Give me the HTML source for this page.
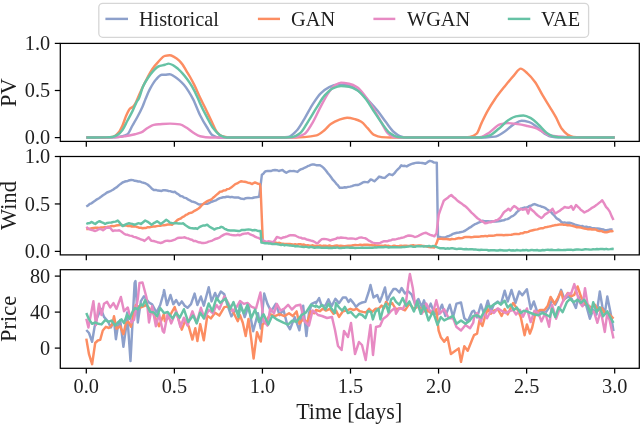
<!DOCTYPE html>
<html><head><meta charset="utf-8"><style>
html,body{margin:0;padding:0;background:#fff;width:640px;height:424px;overflow:hidden}
svg{display:block;will-change:transform}
text{font-family:"Liberation Serif",serif;fill:#1e1e1e}
</style></head><body>
<svg width="640" height="424" viewBox="0 0 640 424">
<clipPath id="c0"><rect x="60.3" y="43.4" width="579.0" height="98.0"/></clipPath>
<clipPath id="c1"><rect x="60.3" y="156.5" width="579.0" height="98.4"/></clipPath>
<clipPath id="c2"><rect x="60.3" y="269.7" width="579.0" height="98.60000000000002"/></clipPath>
<g clip-path="url(#c0)" fill="none" stroke-width="2.45" stroke-linejoin="round" stroke-linecap="butt">
<path stroke="#8da0cb" d="M86.30,137.50 C95.87,137.47 105.43,137.48 115.00,137.40 C117.50,137.38 120.00,136.86 122.50,136.30 C124.17,135.93 125.83,135.36 127.50,134.25 C129.17,133.14 130.83,128.42 132.50,125.50 C134.17,122.58 135.83,119.86 137.50,116.75 C139.17,113.64 140.83,110.53 142.50,106.75 C143.43,104.63 144.37,101.86 145.30,99.60 C146.87,95.81 148.43,91.83 150.00,88.90 C152.00,85.16 154.00,81.61 156.00,79.50 C157.97,77.42 159.93,74.80 161.90,74.80 C162.93,74.80 163.97,74.80 165.00,74.80 C166.57,74.80 168.13,74.20 169.70,74.20 C171.27,74.20 172.83,75.57 174.40,76.50 C176.00,77.45 177.60,78.73 179.20,80.10 C180.77,81.44 182.33,82.98 183.90,84.80 C185.47,86.62 187.03,88.87 188.60,91.30 C190.17,93.73 191.73,96.50 193.30,99.60 C195.57,104.09 197.83,110.68 200.10,115.20 C202.33,119.65 204.57,123.51 206.80,127.00 C208.77,130.07 210.73,134.17 212.70,135.30 C214.63,136.41 216.57,137.40 218.50,137.40 C239.67,137.40 260.83,137.40 282.00,137.40 C284.03,137.40 286.07,137.24 288.10,137.00 C290.83,136.68 293.57,133.69 296.30,131.00 C299.00,128.34 301.70,123.17 304.40,118.80 C307.10,114.43 309.80,108.75 312.50,104.60 C315.23,100.40 317.97,96.05 320.70,93.40 C323.40,90.78 326.10,88.55 328.80,87.30 C331.50,86.05 334.20,84.60 336.90,84.60 C339.60,84.60 342.30,84.60 345.00,84.60 C347.73,84.60 350.47,86.05 353.20,87.30 C355.90,88.54 358.60,91.08 361.30,93.40 C364.00,95.72 366.70,98.65 369.40,101.50 C372.13,104.39 374.87,107.33 377.60,110.70 C380.30,114.03 383.00,118.26 385.70,121.80 C388.40,125.34 391.10,129.67 393.80,132.00 C395.83,133.76 397.87,135.44 399.90,136.10 C401.93,136.76 403.97,137.40 406.00,137.40 C432.43,137.40 458.87,137.40 485.30,137.40 C488.50,137.40 491.70,137.06 494.90,136.60 C498.07,136.15 501.23,133.68 504.40,131.70 C507.60,129.70 510.80,125.87 514.00,124.10 C516.53,122.70 519.07,120.80 521.60,120.80 C524.17,120.80 526.73,121.42 529.30,122.10 C531.83,122.78 534.37,125.05 536.90,126.90 C539.47,128.78 542.03,132.11 544.60,133.60 C547.13,135.07 549.67,136.55 552.20,136.90 C554.13,137.17 556.07,137.39 558.00,137.40 C576.90,137.49 595.80,137.47 614.70,137.50"/>
<path stroke="#fc8d62" d="M86.30,137.50 C93.53,137.47 100.77,137.48 108.00,137.40 C109.92,137.38 111.83,137.07 113.75,136.60 C115.42,136.20 117.08,134.36 118.75,132.40 C120.00,130.93 121.25,128.22 122.50,125.50 C123.75,122.78 125.00,118.22 126.25,115.50 C127.50,112.78 128.75,109.71 130.00,108.60 C131.03,107.68 132.07,107.65 133.10,106.75 C134.15,105.84 135.20,103.89 136.25,101.75 C136.53,101.17 136.82,100.29 137.10,99.60 C138.67,95.80 140.23,92.24 141.80,88.90 C143.37,85.56 144.93,82.47 146.50,79.50 C148.47,75.77 150.43,71.73 152.40,68.90 C154.37,66.07 156.33,63.81 158.30,61.80 C160.53,59.52 162.77,56.38 165.00,55.90 C166.57,55.57 168.13,55.30 169.70,55.30 C171.27,55.30 172.83,56.31 174.40,57.10 C176.00,57.90 177.60,59.14 179.20,60.60 C180.37,61.67 181.53,63.13 182.70,64.75 C183.87,66.37 185.03,68.67 186.20,70.60 C187.40,72.59 188.60,74.40 189.80,76.50 C191.37,79.24 192.93,82.22 194.50,85.40 C196.47,89.39 198.43,94.31 200.40,98.40 C201.97,101.66 203.53,104.50 205.10,107.70 C207.33,112.26 209.57,117.33 211.80,121.90 C213.50,125.38 215.20,130.00 216.90,132.00 C218.57,133.96 220.23,135.69 221.90,136.20 C224.13,136.88 226.37,137.40 228.60,137.40 C251.07,137.40 273.53,137.40 296.00,137.40 C298.80,137.40 301.60,137.25 304.40,137.10 C308.47,136.88 312.53,136.38 316.60,135.40 C319.30,134.75 322.00,132.18 324.70,130.00 C326.73,128.36 328.77,125.29 330.80,123.90 C333.50,122.06 336.20,120.69 338.90,119.80 C341.63,118.90 344.37,117.80 347.10,117.80 C349.80,117.80 352.50,118.52 355.20,119.20 C357.23,119.71 359.27,120.58 361.30,121.80 C363.33,123.02 365.37,125.77 367.40,127.90 C369.43,130.03 371.47,133.59 373.50,134.60 C376.20,135.94 378.90,136.93 381.60,137.10 C384.40,137.28 387.20,137.40 390.00,137.40 C415.33,137.40 440.67,137.40 466.00,137.40 C467.33,137.40 468.67,137.15 470.00,136.90 C472.23,136.48 474.47,135.46 476.70,133.60 C478.30,132.27 479.90,126.46 481.50,123.10 C483.40,119.11 485.30,115.02 487.20,111.60 C489.77,106.98 492.33,102.91 494.90,99.20 C498.07,94.62 501.23,90.76 504.40,86.80 C507.60,82.80 510.80,78.77 514.00,75.30 C516.23,72.88 518.47,68.60 520.70,68.60 C522.93,68.60 525.17,71.45 527.40,73.40 C529.93,75.61 532.47,78.53 535.00,82.00 C537.57,85.52 540.13,91.08 542.70,95.40 C545.23,99.67 547.77,103.60 550.30,107.80 C552.20,110.95 554.10,113.95 556.00,117.40 C557.93,120.91 559.87,126.21 561.80,128.80 C563.70,131.35 565.60,133.50 567.50,134.60 C569.40,135.70 571.30,136.66 573.20,136.90 C575.47,137.19 577.73,137.38 580.00,137.40 C591.57,137.48 603.13,137.47 614.70,137.50"/>
<path stroke="#e78ac3" d="M86.30,137.50 C95.03,137.47 103.77,137.47 112.50,137.40 C116.67,137.37 120.83,136.82 125.00,136.30 C128.33,135.88 131.67,135.07 135.00,134.25 C137.08,133.74 139.17,133.27 141.25,132.40 C143.33,131.53 145.42,129.21 147.50,128.00 C149.58,126.79 151.67,125.26 153.75,124.90 C155.83,124.54 157.92,124.42 160.00,124.25 C163.33,123.98 166.67,123.60 170.00,123.60 C173.33,123.60 176.67,123.92 180.00,124.40 C182.23,124.72 184.47,126.45 186.70,127.80 C188.93,129.15 191.17,131.45 193.40,132.80 C195.63,134.15 197.87,135.75 200.10,136.20 C203.47,136.88 206.83,137.40 210.20,137.40 C236.80,137.40 263.40,137.40 290.00,137.40 C292.10,137.40 294.20,137.22 296.30,137.00 C299.00,136.72 301.70,135.58 304.40,134.00 C307.10,132.42 309.80,127.19 312.50,122.80 C315.23,118.35 317.97,111.68 320.70,106.60 C323.40,101.58 326.10,96.17 328.80,92.40 C330.83,89.56 332.87,86.47 334.90,85.20 C336.93,83.93 338.97,82.60 341.00,82.60 C343.70,82.60 346.40,83.20 349.10,83.80 C351.80,84.40 354.50,85.62 357.20,87.30 C359.93,89.00 362.67,92.91 365.40,96.40 C368.10,99.85 370.80,104.23 373.50,108.60 C376.20,112.97 378.90,118.18 381.60,122.80 C383.63,126.28 385.67,131.08 387.70,133.00 C389.73,134.92 391.77,136.76 393.80,137.00 C395.87,137.24 397.93,137.40 400.00,137.40 C426.00,137.40 452.00,137.40 478.00,137.40 C479.17,137.40 480.33,137.15 481.50,136.90 C484.03,136.36 486.57,134.29 489.10,132.70 C492.93,130.29 496.77,124.92 500.60,124.10 C503.13,123.56 505.67,123.10 508.20,123.10 C511.40,123.10 514.60,123.66 517.80,124.10 C521.00,124.54 524.20,125.29 527.40,126.00 C529.93,126.56 532.47,127.06 535.00,127.90 C537.57,128.75 540.13,130.43 542.70,131.70 C545.23,132.96 547.77,134.98 550.30,135.50 C552.87,136.03 555.43,136.28 558.00,136.50 C563.07,136.93 568.13,137.37 573.20,137.40 C587.03,137.47 600.87,137.47 614.70,137.50"/>
<path stroke="#66c2a5" d="M86.30,137.50 C92.87,137.47 99.43,137.47 106.00,137.40 C108.17,137.38 110.33,137.24 112.50,137.00 C114.17,136.82 115.83,135.89 117.50,134.90 C119.17,133.91 120.83,132.08 122.50,129.90 C124.17,127.72 125.83,123.63 127.50,120.50 C129.17,117.37 130.83,114.42 132.50,111.10 C134.17,107.78 135.83,102.78 137.50,100.50 C137.77,100.14 138.03,99.99 138.30,99.60 C139.87,97.32 141.43,89.98 143.00,86.60 C144.57,83.22 146.13,80.66 147.70,78.30 C149.67,75.33 151.63,72.64 153.60,70.60 C155.17,68.97 156.73,67.15 158.30,66.50 C160.53,65.57 162.77,65.41 165.00,64.75 C166.17,64.41 167.33,63.60 168.50,63.60 C170.10,63.60 171.70,64.52 173.30,65.30 C174.87,66.06 176.43,67.54 178.00,68.90 C179.57,70.26 181.13,71.86 182.70,73.60 C184.27,75.34 185.83,77.35 187.40,79.50 C188.97,81.65 190.53,83.92 192.10,86.60 C194.07,89.97 196.03,94.02 198.00,98.40 C198.70,99.96 199.40,101.94 200.10,103.50 C202.33,108.48 204.57,112.74 206.80,116.90 C209.03,121.06 211.27,125.76 213.50,128.60 C215.73,131.44 217.97,134.23 220.20,135.30 C222.43,136.37 224.67,137.40 226.90,137.40 C246.60,137.40 266.30,137.40 286.00,137.40 C288.07,137.40 290.13,137.23 292.20,137.00 C294.90,136.70 297.60,135.00 300.30,133.00 C303.03,130.98 305.77,125.05 308.50,120.80 C311.20,116.60 313.90,111.83 316.60,107.60 C319.30,103.37 322.00,98.39 324.70,95.40 C327.40,92.41 330.10,89.49 332.80,88.30 C335.53,87.10 338.27,85.90 341.00,85.90 C343.70,85.90 346.40,86.26 349.10,86.70 C351.80,87.14 354.50,88.64 357.20,90.30 C359.93,91.98 362.67,95.21 365.40,98.50 C368.10,101.75 370.80,106.65 373.50,110.70 C376.20,114.75 378.90,119.13 381.60,122.80 C384.33,126.51 387.07,131.07 389.80,133.00 C392.50,134.91 395.20,136.70 397.90,137.00 C399.93,137.23 401.97,137.40 404.00,137.40 C429.83,137.40 455.67,137.40 481.50,137.40 C484.03,137.40 486.57,136.55 489.10,135.70 C492.30,134.63 495.50,131.36 498.70,128.80 C501.87,126.26 505.03,122.20 508.20,120.20 C510.77,118.58 513.33,116.93 515.90,116.40 C518.43,115.87 520.97,115.40 523.50,115.40 C526.07,115.40 528.63,116.94 531.20,118.30 C533.73,119.64 536.27,122.63 538.80,125.00 C541.37,127.40 543.93,130.99 546.50,132.70 C549.03,134.39 551.57,136.02 554.10,136.50 C556.67,136.99 559.23,137.39 561.80,137.40 C579.43,137.49 597.07,137.47 614.70,137.50"/>
</g>
<g clip-path="url(#c1)" fill="none" stroke-width="2.45" stroke-linejoin="round" stroke-linecap="butt">
<polyline stroke="#8da0cb" points="86.25,206.50 88.00,205.48 89.75,203.88 91.50,203.31 93.25,201.93 95.00,200.75 97.00,199.29 99.00,198.25 101.00,196.85 103.00,195.35 105.00,194.00 107.00,192.51 109.00,191.76 111.00,190.78 113.00,189.73 115.00,188.25 116.88,187.14 118.75,185.38 120.62,183.91 122.50,182.50 124.25,181.77 126.00,181.27 127.75,180.93 129.50,180.27 131.25,180.00 133.00,180.13 134.75,180.80 136.50,180.96 138.25,181.46 140.00,181.50 141.88,182.39 143.75,182.78 145.62,183.46 147.50,184.50 149.58,186.23 151.67,188.43 153.75,190.00 155.83,189.93 157.92,190.57 160.00,190.75 161.67,190.93 163.33,190.17 165.00,190.25 166.75,190.44 168.50,190.98 170.25,191.14 172.00,191.80 173.40,192.16 174.80,191.80 176.67,193.41 178.53,194.33 180.40,196.00 182.30,196.35 184.20,197.64 186.10,198.10 187.97,199.44 189.83,200.30 191.70,201.60 193.38,201.80 195.06,202.41 196.74,203.23 198.42,204.28 200.10,204.50 201.88,204.35 203.65,203.89 205.42,203.76 207.20,203.80 208.95,203.17 210.70,202.20 212.45,201.51 214.20,200.90 216.07,200.35 217.93,199.10 219.80,198.10 221.50,197.72 223.20,197.23 224.90,197.23 226.60,196.75 228.30,196.70 229.98,197.17 231.66,196.88 233.34,197.27 235.02,197.48 236.70,197.40 238.57,197.56 240.43,198.43 242.30,198.80 244.00,199.05 245.70,198.18 247.40,198.08 249.10,198.08 250.80,198.10 252.48,198.02 254.16,197.49 255.84,197.33 257.52,196.97 259.20,196.70 261.90,174.70 263.30,173.68 264.70,171.90 266.10,171.12 267.50,171.00 269.40,171.08 271.30,171.00 273.15,170.16 275.00,170.00 276.90,170.17 278.80,171.00 280.65,170.35 282.50,170.00 284.40,171.64 286.30,172.80 288.15,171.68 290.00,171.00 291.90,171.10 293.80,171.00 295.65,171.35 297.50,171.90 299.40,170.10 301.30,169.10 302.87,168.72 304.43,167.80 306.00,167.20 307.62,166.18 309.25,165.59 310.88,164.90 312.50,164.40 314.38,164.55 316.25,165.20 318.12,165.13 320.00,165.30 321.90,166.43 323.80,168.10 325.68,170.24 327.55,172.84 329.43,174.95 331.30,177.50 332.98,179.93 334.66,181.63 336.34,183.83 338.02,185.47 339.70,187.80 341.40,187.79 343.10,187.66 344.80,187.20 346.50,187.43 348.20,186.90 350.08,186.59 351.96,186.16 353.84,185.39 355.72,185.04 357.60,185.00 359.47,184.33 361.33,183.39 363.20,182.20 364.77,182.00 366.33,182.11 367.90,182.20 369.30,181.07 370.70,179.40 372.55,180.22 374.40,181.30 375.97,179.81 377.53,178.37 379.10,176.60 380.55,177.01 382.00,177.50 383.40,177.72 384.80,177.90 387.00,175.87 389.20,174.10 390.85,174.61 392.50,175.20 394.33,173.47 396.17,171.00 398.00,169.10 399.65,167.59 401.30,165.30 403.10,166.04 404.90,165.81 406.70,166.40 408.90,165.10 411.10,164.20 413.30,163.44 415.50,162.90 417.15,162.72 418.80,162.60 420.43,162.87 422.05,162.96 423.68,163.24 425.30,163.70 427.50,162.13 429.70,160.90 431.90,161.37 434.10,162.60 436.80,162.60 438.00,237.00 439.75,236.89 441.50,237.41 443.25,237.36 445.00,237.50 447.00,236.48 449.00,235.96 451.00,235.11 453.00,233.83 455.00,233.25 457.00,232.76 459.00,232.44 461.00,232.05 463.00,231.58 465.00,230.75 466.88,229.47 468.75,228.17 470.62,227.21 472.50,225.75 474.50,224.40 476.50,223.62 478.50,222.73 480.50,221.95 482.50,220.75 484.38,221.15 486.25,221.31 488.12,221.29 490.00,221.50 492.00,221.17 494.00,221.56 496.00,221.55 498.00,221.24 500.00,221.00 501.88,220.45 503.75,220.38 505.62,219.41 507.50,219.10 509.38,218.17 511.25,216.56 513.12,215.89 515.00,214.40 516.87,212.13 518.73,210.49 520.60,208.75 522.48,208.21 524.35,207.56 526.23,207.67 528.10,206.90 529.75,205.84 531.40,205.58 533.05,204.50 534.70,204.10 536.57,204.83 538.43,205.63 540.30,206.00 541.87,206.80 543.43,207.18 545.00,207.80 546.90,209.30 548.80,210.45 550.70,211.60 552.57,213.85 554.43,215.76 556.30,218.10 557.95,219.11 559.60,220.14 561.25,221.92 562.90,222.80 564.52,222.43 566.15,222.88 567.77,222.73 569.40,222.80 571.28,223.21 573.16,223.83 575.04,224.61 576.92,225.11 578.80,225.60 580.68,226.12 582.56,226.08 584.44,226.98 586.32,226.72 588.20,227.50 590.08,227.34 591.96,228.13 593.84,228.15 595.72,228.46 597.60,228.50 599.48,228.72 601.35,229.09 603.23,229.46 605.10,230.30 606.98,230.10 608.85,229.80 610.73,229.44 612.60,229.40"/>
<polyline stroke="#fc8d62" points="86.25,229.00 88.12,228.99 90.00,228.60 91.88,228.28 93.75,227.94 95.62,227.71 97.50,227.75 99.29,227.86 101.07,227.40 102.86,227.42 104.64,227.12 106.43,227.17 108.21,226.81 110.00,226.50 112.00,225.89 114.00,226.21 116.00,225.54 118.00,225.18 120.00,225.00 122.00,225.01 124.00,225.66 126.00,225.35 128.00,225.98 130.00,225.75 131.79,226.50 133.57,226.27 135.36,226.44 137.14,226.95 138.93,227.68 140.71,227.62 142.50,228.25 144.29,227.93 146.07,227.97 147.86,227.11 149.64,227.19 151.43,226.83 153.21,226.47 155.00,226.50 156.79,226.14 158.57,225.86 160.36,225.67 162.14,225.40 163.93,225.20 165.71,225.08 167.50,224.50 169.75,224.40 172.00,224.70 173.75,223.25 175.50,221.86 177.25,220.17 179.00,219.10 180.70,218.52 182.40,217.07 184.10,216.34 185.80,214.95 187.50,214.30 189.25,213.13 191.00,212.79 192.75,212.06 194.50,210.80 196.37,209.88 198.23,208.79 200.10,207.30 202.20,204.83 204.30,203.10 206.08,201.91 207.85,200.90 209.62,200.16 211.40,199.50 213.08,197.73 214.76,196.42 216.44,194.91 218.12,193.56 219.80,191.80 221.67,191.59 223.53,190.52 225.40,190.40 227.30,189.11 229.20,188.85 231.10,187.60 233.20,185.86 235.30,184.10 237.17,183.44 239.03,182.27 240.90,181.30 242.65,181.54 244.40,181.72 246.15,182.06 247.90,182.70 250.05,183.03 252.20,184.10 253.60,183.08 255.00,182.40 256.63,183.11 258.27,183.82 259.90,184.10 260.60,188.30 262.80,241.90 264.68,241.93 266.57,242.35 268.45,241.90 270.33,242.69 272.22,242.12 274.10,242.60 275.85,242.58 277.60,243.17 279.35,242.79 281.10,243.42 282.85,243.61 284.60,244.01 286.35,244.06 288.10,244.00 289.86,244.06 291.62,244.16 293.39,244.65 295.15,244.16 296.91,244.57 298.68,244.14 300.44,244.28 302.20,244.70 303.96,244.54 305.73,245.35 307.49,245.26 309.25,245.53 311.01,245.62 312.77,245.33 314.54,246.00 316.30,245.80 318.17,245.94 320.04,245.44 321.92,246.18 323.79,245.60 325.66,245.75 327.53,246.12 329.41,245.52 331.28,246.11 333.15,246.11 335.02,245.82 336.89,245.49 338.77,245.90 340.64,245.78 342.51,245.96 344.38,246.11 346.26,245.90 348.13,245.65 350.00,245.80 351.76,245.55 353.52,245.18 355.29,245.00 357.05,245.11 358.81,244.91 360.58,244.62 362.34,245.22 364.10,244.70 365.85,244.79 367.60,244.63 369.35,244.98 371.10,244.98 372.85,245.41 374.60,245.08 376.35,245.48 378.10,245.40 379.86,245.71 381.62,245.61 383.39,245.97 385.15,245.45 386.91,246.03 388.68,245.83 390.44,246.38 392.20,246.10 393.96,245.73 395.73,246.06 397.49,246.16 399.25,246.01 401.01,245.57 402.77,246.06 404.54,245.62 406.30,245.80 408.05,245.94 409.80,245.78 411.55,245.44 413.30,245.22 415.05,245.80 416.80,245.80 418.55,245.57 420.30,245.40 422.06,245.72 423.82,245.92 425.59,246.40 427.35,246.48 429.11,247.10 430.88,247.37 432.64,247.22 434.40,247.50 436.50,243.30 438.00,239.00 439.71,238.89 441.43,238.81 443.14,239.05 444.86,239.07 446.57,239.09 448.29,239.24 450.00,239.50 451.75,238.97 453.50,239.15 455.25,238.99 457.00,238.44 458.75,237.99 460.50,238.30 462.25,238.15 464.00,237.31 465.75,236.87 467.50,237.00 469.29,236.94 471.07,237.22 472.86,237.06 474.64,236.79 476.43,236.60 478.21,236.74 480.00,236.50 481.79,236.19 483.57,236.21 485.36,235.87 487.14,236.30 488.93,235.61 490.71,235.78 492.50,235.75 494.38,235.55 496.25,235.07 498.12,234.96 500.00,235.00 501.88,235.00 503.76,235.17 505.64,235.04 507.52,234.95 509.40,234.86 511.28,234.79 513.16,234.33 515.04,234.08 516.92,233.98 518.80,234.10 520.67,233.28 522.54,233.36 524.41,232.32 526.28,232.31 528.15,231.87 530.02,230.92 531.89,230.49 533.76,230.04 535.63,229.62 537.50,229.40 539.38,228.63 541.27,228.22 543.15,228.27 545.03,227.23 546.92,226.97 548.80,226.60 550.68,226.33 552.56,225.71 554.44,225.33 556.32,225.08 558.20,224.70 560.08,224.39 561.95,224.41 563.83,224.89 565.70,224.70 567.56,225.24 569.42,225.19 571.28,225.64 573.14,226.04 575.00,226.60 576.88,227.23 578.76,227.17 580.64,227.42 582.52,228.14 584.40,228.50 586.28,228.84 588.16,229.23 590.04,228.96 591.92,229.47 593.80,229.40 595.68,229.53 597.57,230.58 599.45,231.12 601.33,230.87 603.22,231.84 605.10,232.20 606.78,232.21 608.46,231.77 610.14,231.04 611.82,231.33 613.50,230.90"/>
<polyline stroke="#e78ac3" points="86.30,226.80 88.30,228.59 90.30,229.60 91.95,229.94 93.60,230.46 95.25,231.00 97.38,230.03 99.50,228.90 101.25,229.21 103.00,230.30 104.75,229.03 106.50,227.50 108.25,227.71 110.00,227.50 111.40,229.37 112.80,231.00 114.93,230.40 117.07,230.63 119.20,230.30 121.30,231.47 123.40,233.17 125.50,234.50 127.60,234.83 129.70,235.60 131.80,235.90 133.67,236.82 135.53,237.24 137.40,238.00 139.18,238.66 140.95,239.51 142.72,239.86 144.50,240.90 146.60,239.12 148.70,237.30 150.10,239.37 151.50,240.90 153.60,241.06 155.70,241.60 157.35,242.21 159.00,242.57 160.65,243.00 162.30,242.54 163.95,241.72 165.60,240.90 167.47,240.78 169.33,241.03 171.20,240.90 173.33,240.08 175.47,239.30 177.60,238.00 179.38,237.68 181.15,237.72 182.92,237.62 184.70,237.30 186.57,238.12 188.43,238.46 190.30,239.50 191.98,239.71 193.66,240.91 195.34,240.92 197.02,241.62 198.70,242.30 200.33,242.46 201.97,243.08 203.60,243.00 205.27,242.88 206.93,242.31 208.60,241.60 210.47,241.17 212.33,240.55 214.20,239.50 216.07,238.70 217.93,238.25 219.80,237.30 221.90,235.85 224.00,234.58 226.10,233.80 228.05,234.00 230.00,234.64 231.95,235.04 233.90,235.20 235.77,235.38 237.63,234.82 239.50,235.20 241.18,234.72 242.86,233.97 244.54,233.61 246.22,233.58 247.90,233.10 249.68,234.03 251.45,234.90 253.22,235.46 255.00,236.60 256.63,237.36 258.27,237.82 259.90,238.80 261.70,239.42 263.50,240.50 265.25,241.34 267.00,241.60 269.13,241.34 271.27,241.68 273.40,241.90 275.15,239.74 276.90,237.00 279.00,237.70 281.10,238.40 283.20,237.49 285.30,237.00 287.17,236.33 289.03,235.54 290.90,235.10 293.05,235.25 295.20,235.50 297.07,236.51 298.93,237.36 300.80,237.70 302.55,238.58 304.30,238.44 306.05,239.22 307.80,239.80 309.67,240.19 311.53,240.81 313.40,241.20 315.55,242.59 317.70,243.30 319.80,240.88 321.90,239.10 324.00,238.86 326.10,239.10 328.20,239.62 330.30,240.50 332.40,239.71 334.50,239.10 335.95,238.79 337.40,237.70 339.15,237.97 340.90,237.47 342.65,237.68 344.40,237.90 346.27,238.08 348.13,238.61 350.00,238.40 351.87,238.52 353.73,238.62 355.60,239.10 357.50,238.50 359.40,237.65 361.30,237.40 363.17,237.86 365.03,238.16 366.90,239.10 368.77,240.60 370.63,241.42 372.50,242.60 374.37,242.91 376.23,243.12 378.10,243.30 380.20,242.83 382.30,241.90 384.07,241.19 385.85,241.16 387.62,241.20 389.40,240.50 391.15,240.22 392.90,239.46 394.65,239.43 396.40,239.10 398.27,238.56 400.13,238.18 402.00,237.70 403.77,237.41 405.55,236.49 407.33,235.82 409.10,235.50 410.97,235.71 412.83,236.17 414.70,237.00 416.57,236.57 418.43,235.83 420.30,234.80 422.20,233.92 424.10,233.17 426.00,232.70 428.10,233.89 430.20,234.80 432.30,235.48 434.40,236.30 436.50,233.40 438.75,214.50 440.42,209.86 442.08,205.41 443.75,200.75 445.62,199.30 447.50,198.04 449.38,196.24 451.25,195.00 453.33,196.99 455.42,198.55 457.50,200.75 459.50,202.13 461.50,203.44 463.50,205.16 465.50,206.39 467.50,208.25 469.50,210.42 471.50,212.63 473.50,214.34 475.50,216.32 477.50,218.25 479.38,219.50 481.25,220.91 483.12,221.85 485.00,223.25 486.88,222.96 488.75,222.40 490.62,222.24 492.50,221.50 494.17,221.26 495.83,220.21 497.50,220.00 500.00,218.10 501.88,215.46 503.75,212.50 505.30,211.15 506.85,210.21 508.40,208.75 510.30,210.60 512.20,207.94 514.10,206.00 515.95,207.13 517.80,208.75 519.37,209.35 520.93,209.06 522.50,209.70 524.40,209.22 526.30,208.75 528.10,213.50 530.00,207.80 531.87,209.95 533.73,211.45 535.60,213.50 537.50,215.25 539.40,216.64 541.30,218.10 543.15,216.57 545.00,214.40 546.90,213.34 548.80,211.94 550.70,210.60 552.50,208.75 553.90,211.47 555.30,213.50 556.87,212.57 558.43,211.50 560.00,210.60 561.57,209.26 563.13,208.21 564.70,206.90 566.60,207.57 568.50,207.80 569.90,207.21 571.30,206.00 573.20,209.70 574.60,207.61 576.00,205.00 577.57,206.46 579.13,207.81 580.70,209.70 582.55,210.99 584.40,212.50 586.30,211.48 588.20,210.60 590.07,209.35 591.93,207.77 593.80,206.90 595.70,205.55 597.60,204.10 599.15,202.82 600.70,201.59 602.25,200.30 604.12,203.45 606.00,206.90 607.88,208.91 609.75,211.60 611.62,216.13 613.50,220.00"/>
<polyline stroke="#66c2a5" points="86.30,224.00 88.10,223.22 89.90,222.99 91.70,221.90 93.47,223.11 95.25,224.00 97.38,222.25 99.50,221.20 101.37,222.18 103.23,222.79 105.10,224.00 107.20,222.94 109.30,222.60 111.40,222.51 113.50,221.90 115.62,221.59 117.75,220.50 119.40,222.38 121.05,224.35 122.70,226.10 124.80,224.88 126.90,223.91 129.00,223.30 130.63,223.60 132.27,223.89 133.90,224.70 136.00,224.22 138.10,223.30 139.55,223.38 141.00,224.00 143.10,222.22 145.20,220.50 147.30,221.54 149.40,223.06 151.50,224.70 153.37,223.41 155.23,222.37 157.10,221.20 158.88,222.44 160.65,224.00 162.53,222.64 164.42,221.28 166.30,219.80 168.05,220.93 169.80,222.60 171.90,223.00 174.00,223.30 175.85,222.98 177.70,223.42 179.55,223.55 181.40,223.65 183.25,223.30 185.13,225.00 187.02,226.17 188.90,227.50 190.58,228.14 192.26,228.22 193.94,228.47 195.62,228.26 197.30,228.90 199.40,227.13 201.50,226.10 203.40,225.44 205.30,225.48 207.20,224.70 208.95,226.25 210.70,227.41 212.45,228.36 214.20,229.60 215.95,228.66 217.70,228.10 219.45,227.85 221.20,226.80 222.97,227.47 224.75,228.85 226.53,229.51 228.30,230.30 230.26,230.47 232.22,230.39 234.18,230.54 236.14,230.66 238.10,231.00 239.78,230.97 241.46,230.07 243.14,230.06 244.82,230.00 246.50,229.60 248.48,229.56 250.46,229.62 252.44,230.42 254.42,230.01 256.40,230.30 258.50,231.04 260.60,231.00 261.40,242.60 263.21,242.85 265.03,243.17 266.84,243.11 268.66,243.44 270.47,243.54 272.29,244.05 274.10,244.00 275.85,243.86 277.60,244.27 279.35,244.65 281.10,245.01 282.85,244.54 284.60,245.41 286.35,244.91 288.10,245.40 289.86,245.43 291.62,245.66 293.39,245.68 295.15,246.40 296.91,245.94 298.68,246.34 300.44,246.60 302.20,246.80 303.96,247.10 305.73,246.61 307.49,247.13 309.25,247.45 311.01,246.84 312.77,247.24 314.54,247.77 316.30,247.50 318.05,247.22 319.80,247.42 321.55,247.67 323.30,247.84 325.05,247.73 326.80,247.48 328.55,248.03 330.30,247.80 332.09,247.98 333.88,247.49 335.67,247.68 337.46,247.40 339.25,248.11 341.05,247.99 342.84,247.84 344.63,247.72 346.42,247.36 348.21,247.56 350.00,247.70 351.76,247.50 353.52,247.79 355.29,247.93 357.05,247.86 358.81,247.88 360.58,247.80 362.34,247.71 364.10,247.80 365.85,247.80 367.60,247.69 369.35,247.81 371.10,247.80 372.85,247.70 374.60,247.34 376.35,247.42 378.10,247.20 379.86,247.22 381.62,247.25 383.39,247.16 385.15,247.03 386.91,247.07 388.68,247.48 390.44,247.32 392.20,247.20 393.96,247.33 395.73,247.14 397.49,247.31 399.25,247.36 401.01,247.32 402.77,247.01 404.54,246.92 406.30,246.80 408.05,246.64 409.80,246.37 411.55,246.31 413.30,246.81 415.05,246.89 416.80,246.18 418.55,246.18 420.30,246.40 422.06,246.13 423.82,246.64 425.59,246.11 427.35,246.45 429.11,245.87 430.88,246.57 432.64,246.08 434.40,246.10 436.27,246.96 438.13,247.67 440.00,248.20 441.88,248.13 443.75,248.30 445.62,248.68 447.50,248.33 449.38,248.67 451.25,248.25 453.12,248.34 455.00,248.74 456.88,249.11 458.75,248.64 460.62,248.66 462.50,249.00 464.38,249.28 466.25,248.94 468.12,249.40 470.00,249.22 471.88,249.14 473.75,249.50 475.62,249.40 477.50,249.83 479.38,250.05 481.25,249.70 483.12,249.90 485.00,249.85 486.88,249.90 488.75,250.48 490.62,250.25 492.50,250.25 494.38,250.29 496.25,250.44 498.12,250.43 500.00,250.07 501.88,250.22 503.75,250.57 505.62,250.56 507.50,250.43 509.38,249.87 511.25,250.58 513.12,250.32 515.00,250.62 516.88,249.99 518.75,250.39 520.62,250.58 522.50,250.07 524.38,250.22 526.25,249.93 528.12,250.46 530.00,250.30 531.79,249.89 533.57,250.26 535.36,250.24 537.14,249.99 538.93,250.56 540.71,250.58 542.50,250.00 544.29,250.28 546.07,249.88 547.86,249.82 549.64,249.97 551.43,249.84 553.21,250.01 555.00,250.10 556.79,250.00 558.57,249.70 560.36,250.08 562.14,250.10 563.93,249.99 565.71,250.01 567.50,249.67 569.29,249.82 571.07,249.68 572.86,250.12 574.64,249.79 576.43,249.59 578.21,249.45 580.00,249.60 581.88,249.89 583.75,249.56 585.62,249.13 587.50,249.38 589.38,249.55 591.25,249.61 593.12,249.27 595.00,249.40 596.88,248.96 598.75,249.22 600.62,248.87 602.50,249.04 604.38,249.27 606.25,248.83 608.12,249.36 610.00,249.15 611.88,248.84 613.75,249.00"/>
</g>
<g clip-path="url(#c2)" fill="none" stroke-width="2.45" stroke-linejoin="round" stroke-linecap="butt">
<polyline stroke="#8da0cb" points="86.3,330.0 89.0,333.0 92.1,341.8 94.6,326.8 97.0,318.0 100.9,308.8 104.0,316.9 107.8,321.2 110.9,327.5 114.0,320.0 115.9,339.2 117.8,326.8 120.2,320.0 123.4,346.8 126.5,324.2 127.1,312.5 130.5,361.1 134.6,283.0 135.5,281.0 137.8,322.5 140.9,301.2 144.0,296.2 149.0,302.5 152.1,304.4 156.5,312.5 160.2,305.0 163.4,293.8 164.1,290.1 167.0,305.0 170.5,295.0 173.3,304.2 176.2,300.0 179.0,305.0 181.8,301.4 184.7,305.7 187.5,307.8 191.0,304.2 194.6,293.6 197.4,305.0 200.9,296.5 203.8,305.7 208.7,287.2 211.6,301.4 215.1,292.9 217.2,298.6 220.8,291.5 224.3,294.3 227.1,304.2 231.4,316.3 235.6,309.9 239.2,312.7 240.0,302.0 244.7,317.1 248.5,305.8 253.2,331.2 257.9,313.3 260.8,328.4 264.2,293.5 267.4,303.9 271.1,311.4 275.8,303.9 279.6,315.2 283.4,309.5 287.2,324.6 290.0,329.3 294.7,317.1 299.4,330.3 303.2,305.8 306.4,336.0 308.9,313.3 311.7,303.9 315.5,302.0 316.0,303.1 319.1,298.1 321.6,305.6 325.4,305.6 328.5,299.4 331.6,306.2 335.4,298.8 339.1,303.1 342.9,297.5 346.0,297.5 348.5,301.9 350.4,299.4 353.5,303.1 356.0,306.9 359.1,303.8 362.2,302.5 365.4,301.9 368.5,292.5 370.5,285.0 373.5,297.5 377.2,295.0 379.8,301.9 382.2,295.6 385.0,287.5 387.2,300.6 390.4,293.8 393.5,289.0 396.0,289.0 399.4,292.4 401.6,288.0 405.0,293.5 408.3,291.3 411.7,294.6 415.0,303.6 418.4,299.1 421.8,307.0 424.0,300.3 427.4,311.5 430.7,303.6 434.1,312.6 437.5,314.8 442.0,304.7 445.3,316.0 449.8,304.7 453.1,317.0 456.5,303.6 461.0,302.5 464.3,318.2 467.7,321.5 472.2,311.5 474.0,310.7 477.1,317.5 480.9,304.5 484.0,313.7 487.8,300.7 490.9,311.4 493.9,304.5 497.8,301.5 500.8,304.5 504.7,290.7 507.7,301.5 511.5,290.0 515.4,303.0 519.2,291.5 522.3,295.3 526.9,289.2 530.7,309.1 533.8,301.5 537.6,313.0 541.4,310.7 545.3,313.0 549.1,307.6 552.0,299.7 555.3,304.7 557.8,299.7 561.1,289.8 564.4,298.9 568.5,296.4 571.8,298.9 575.9,308.0 578.4,296.4 582.5,305.5 585.8,303.9 589.9,318.7 593.2,309.6 596.5,314.6 599.8,291.5 602.3,306.3 604.8,313.8 607.3,296.4 610.6,312.9 613.5,331.1"/>
<polyline stroke="#fc8d62" points="86.3,338.6 89.0,354.2 92.1,364.2 95.2,343.0 97.8,340.5 100.2,339.9 102.8,330.5 105.9,326.8 109.0,328.0 112.1,324.9 114.0,316.2 116.5,328.8 120.2,326.2 123.4,334.2 125.9,323.0 128.4,321.8 130.9,326.8 133.4,315.0 135.9,305.0 140.2,307.5 146.5,305.0 149.6,308.8 153.4,313.8 159.0,326.2 164.0,313.8 164.8,321.2 169.1,317.0 174.7,307.1 178.3,318.4 181.8,329.7 185.4,319.8 188.9,326.9 192.4,339.6 195.3,328.3 197.4,341.1 200.2,324.1 203.8,340.3 207.3,315.6 210.8,318.4 215.1,312.7 219.3,315.6 224.3,307.1 228.5,306.4 232.8,311.3 237.8,321.2 240.0,315.2 242.8,322.7 245.7,336.0 248.5,319.0 251.3,339.7 253.6,358.6 257.0,332.2 260.8,341.6 262.6,324.6 266.4,320.8 270.2,314.2 274.9,316.1 279.6,314.2 284.3,316.1 289.0,313.3 292.8,316.1 296.6,311.4 299.4,323.7 303.2,319.0 307.0,322.7 310.8,311.4 314.5,313.3 316.0,310.0 319.8,311.2 322.9,308.8 326.0,310.6 329.8,308.8 333.5,313.8 336.0,310.6 339.1,316.9 342.9,311.2 346.6,310.6 350.4,308.8 353.5,310.0 356.6,308.8 359.8,311.2 362.9,311.9 366.0,312.5 369.1,308.8 372.2,311.9 375.4,308.8 378.5,308.8 381.6,305.6 384.1,308.1 386.0,301.9 389.1,305.0 392.2,303.1 394.8,307.5 396.0,309.2 400.5,308.1 405.0,310.3 409.4,303.6 413.9,309.2 418.4,305.9 422.9,311.5 427.4,310.3 431.9,313.7 436.3,309.2 438.6,330.5 440.8,337.2 444.2,341.7 447.5,337.2 450.9,354.0 455.4,350.7 458.7,348.4 461.0,361.9 464.3,346.2 467.7,350.7 472.2,339.5 474.0,335.2 477.1,333.6 479.4,320.6 482.4,326.0 485.5,315.2 487.8,309.1 490.9,313.7 493.9,310.7 497.8,309.1 501.6,316.0 504.7,309.1 507.7,314.5 513.1,303.0 516.9,308.4 520.7,316.8 524.6,335.2 526.9,324.4 529.9,333.6 532.2,327.5 535.3,313.7 539.9,309.9 544.5,309.9 547.6,306.1 550.6,296.9 554.5,303.9 557.8,298.1 561.1,291.5 563.5,300.6 567.7,293.1 571.0,296.4 574.3,294.8 577.6,286.5 580.9,296.4 584.2,303.0 587.5,304.7 591.6,308.0 594.9,304.7 598.2,310.5 601.5,308.0 604.8,312.9 608.9,313.8 613.5,318.7"/>
<polyline stroke="#e78ac3" points="86.3,318.8 88.4,327.5 93.4,301.2 95.9,325.0 99.0,303.8 101.5,315.0 104.0,303.8 107.1,301.9 110.2,307.5 113.4,303.1 116.5,308.8 120.9,296.9 124.0,311.2 127.8,307.5 131.5,322.5 134.0,320.0 137.8,298.8 139.5,283.0 142.5,282.5 144.5,290.0 146.5,297.5 149.0,322.5 152.1,306.2 155.9,326.2 159.0,313.8 162.8,331.2 164.1,332.6 167.7,313.4 171.2,323.4 176.2,311.3 180.4,326.9 183.9,317.7 187.5,325.5 192.4,311.3 196.7,322.6 200.9,307.8 204.5,318.4 208.7,309.9 213.0,313.4 216.5,304.9 219.3,309.2 224.3,296.5 228.5,303.5 232.8,311.3 237.0,306.4 240.0,301.0 243.8,303.9 247.5,302.9 251.3,306.7 256.0,308.6 260.4,292.5 263.6,320.8 267.4,325.6 270.2,308.6 274.0,313.3 276.8,303.9 280.6,310.5 284.3,308.6 288.1,304.8 291.9,309.5 295.7,305.8 300.4,304.8 304.2,320.8 308.9,325.6 312.6,310.5 316.4,313.3 318.0,315.0 322.0,316.0 327.0,318.0 332.0,317.0 335.0,330.0 338.0,346.0 341.6,350.0 344.0,331.0 348.0,337.0 351.0,323.0 355.0,354.0 359.0,342.0 362.0,345.0 365.7,360.0 370.5,325.0 373.0,355.0 376.0,327.0 380.0,326.0 383.0,319.0 387.0,316.0 391.0,311.0 395.0,308.0 396.0,313.7 399.4,308.1 402.7,309.2 406.0,302.5 408.3,283.4 409.9,274.0 412.8,287.9 415.0,304.7 418.4,307.0 421.8,313.7 426.3,303.6 429.6,310.3 433.0,312.6 436.3,300.3 439.7,313.7 444.2,309.2 448.7,318.2 453.1,318.2 456.5,327.1 461.0,330.5 465.5,324.9 470.0,328.3 473.3,322.7 474.0,317.5 477.1,313.0 480.9,321.4 484.0,312.2 487.0,318.3 490.9,310.7 493.9,313.0 497.8,308.4 501.6,310.7 505.4,313.0 509.2,311.4 513.1,309.9 516.1,314.5 520.0,309.9 523.0,316.8 526.9,308.4 530.7,322.1 534.5,310.7 538.4,313.0 541.4,321.4 545.3,313.0 549.1,326.7 552.0,304.7 556.1,318.7 560.2,307.2 564.4,298.1 568.5,293.1 571.0,294.0 574.3,284.1 577.6,295.6 580.0,303.0 582.5,306.3 585.0,288.2 587.5,303.9 590.8,310.5 594.1,312.1 597.4,322.8 600.7,310.5 604.8,331.9 607.3,312.9 609.7,320.4 613.5,338.5"/>
<polyline stroke="#66c2a5" points="86.3,313.1 89.0,319.4 92.1,323.8 95.2,322.5 98.4,323.8 101.5,324.4 105.2,320.0 108.4,321.9 111.5,320.6 115.2,325.6 117.8,322.5 121.5,319.4 124.0,323.1 127.1,314.4 129.6,318.8 132.8,311.2 135.2,308.1 137.8,309.4 140.9,304.4 142.8,305.6 145.2,300.0 147.8,306.9 150.2,311.9 154.0,312.5 157.1,316.2 160.2,308.1 164.0,313.1 167.7,312.0 172.6,318.4 176.2,312.7 179.7,317.7 183.9,309.2 188.2,321.9 193.2,315.6 196.7,323.4 200.2,312.7 203.8,318.4 208.7,303.5 212.3,311.3 216.5,297.9 220.1,302.8 225.7,298.6 230.0,309.2 233.5,302.1 238.5,317.0 240.0,305.8 243.8,313.3 247.5,304.8 251.3,318.0 255.1,309.5 258.9,321.8 263.6,314.2 268.3,324.6 272.1,316.1 277.7,319.9 283.4,322.7 288.1,324.6 291.9,320.8 296.6,321.8 301.3,315.2 306.0,312.4 310.8,304.8 315.5,306.7 316.0,305.6 319.1,307.5 322.2,305.0 325.4,309.4 328.5,303.8 331.6,308.8 334.8,313.1 336.0,303.1 339.1,307.5 342.2,310.6 344.8,306.9 347.9,313.1 351.0,311.9 353.5,315.0 356.0,317.5 359.1,313.8 362.2,315.0 365.4,318.1 367.9,311.2 371.0,311.9 372.9,319.4 375.4,311.9 378.5,308.8 380.4,319.4 383.5,307.5 386.0,303.8 388.5,312.5 391.0,299.4 393.5,297.5 396.0,301.9 399.4,304.7 402.7,298.0 406.0,305.9 409.4,301.4 413.9,311.5 417.3,301.4 420.7,313.7 424.0,305.9 428.5,320.4 433.0,311.5 437.5,324.9 440.8,317.0 444.2,320.4 448.7,318.2 453.1,315.9 456.5,323.8 461.0,320.4 465.5,323.8 470.0,320.4 473.3,315.9 477.1,315.2 480.9,317.5 484.7,310.7 487.8,306.1 490.9,306.8 493.9,304.5 497.8,302.2 500.8,304.5 504.7,300.7 507.7,307.6 510.8,304.5 513.8,309.9 516.9,307.6 520.7,313.0 523.8,310.7 526.9,311.4 530.7,313.0 534.5,314.5 538.4,315.2 542.2,313.0 546.0,314.5 549.9,316.8 552.0,308.8 555.3,317.1 558.6,307.2 562.7,312.1 566.8,302.2 570.1,298.9 573.4,302.2 577.6,299.7 580.9,303.0 584.2,299.7 587.5,305.5 590.8,313.8 593.2,302.2 596.5,312.1 599.8,307.2 603.1,316.3 607.3,311.3 610.6,317.9 613.5,322.8"/>
</g>
<rect x="60.3" y="43.4" width="579.0" height="98.0" fill="none" stroke="#000" stroke-width="1.25" stroke-linejoin="miter"/>
<line x1="86.30" y1="141.4" x2="86.30" y2="146.70000000000002" stroke="#000" stroke-width="1.25"/>
<line x1="174.37" y1="141.4" x2="174.37" y2="146.70000000000002" stroke="#000" stroke-width="1.25"/>
<line x1="262.43" y1="141.4" x2="262.43" y2="146.70000000000002" stroke="#000" stroke-width="1.25"/>
<line x1="350.50" y1="141.4" x2="350.50" y2="146.70000000000002" stroke="#000" stroke-width="1.25"/>
<line x1="438.56" y1="141.4" x2="438.56" y2="146.70000000000002" stroke="#000" stroke-width="1.25"/>
<line x1="526.62" y1="141.4" x2="526.62" y2="146.70000000000002" stroke="#000" stroke-width="1.25"/>
<line x1="614.69" y1="141.4" x2="614.69" y2="146.70000000000002" stroke="#000" stroke-width="1.25"/>
<rect x="60.3" y="156.5" width="579.0" height="98.4" fill="none" stroke="#000" stroke-width="1.25" stroke-linejoin="miter"/>
<line x1="86.30" y1="254.9" x2="86.30" y2="260.2" stroke="#000" stroke-width="1.25"/>
<line x1="174.37" y1="254.9" x2="174.37" y2="260.2" stroke="#000" stroke-width="1.25"/>
<line x1="262.43" y1="254.9" x2="262.43" y2="260.2" stroke="#000" stroke-width="1.25"/>
<line x1="350.50" y1="254.9" x2="350.50" y2="260.2" stroke="#000" stroke-width="1.25"/>
<line x1="438.56" y1="254.9" x2="438.56" y2="260.2" stroke="#000" stroke-width="1.25"/>
<line x1="526.62" y1="254.9" x2="526.62" y2="260.2" stroke="#000" stroke-width="1.25"/>
<line x1="614.69" y1="254.9" x2="614.69" y2="260.2" stroke="#000" stroke-width="1.25"/>
<rect x="60.3" y="269.7" width="579.0" height="98.60000000000002" fill="none" stroke="#000" stroke-width="1.25" stroke-linejoin="miter"/>
<line x1="86.30" y1="368.3" x2="86.30" y2="373.6" stroke="#000" stroke-width="1.25"/>
<line x1="174.37" y1="368.3" x2="174.37" y2="373.6" stroke="#000" stroke-width="1.25"/>
<line x1="262.43" y1="368.3" x2="262.43" y2="373.6" stroke="#000" stroke-width="1.25"/>
<line x1="350.50" y1="368.3" x2="350.50" y2="373.6" stroke="#000" stroke-width="1.25"/>
<line x1="438.56" y1="368.3" x2="438.56" y2="373.6" stroke="#000" stroke-width="1.25"/>
<line x1="526.62" y1="368.3" x2="526.62" y2="373.6" stroke="#000" stroke-width="1.25"/>
<line x1="614.69" y1="368.3" x2="614.69" y2="373.6" stroke="#000" stroke-width="1.25"/>
<line x1="54.8" y1="43.40" x2="60.3" y2="43.40" stroke="#000" stroke-width="1.25"/>
<text x="50.2" y="50.00" text-anchor="end" font-size="20.3">1.0</text>
<line x1="54.8" y1="90.50" x2="60.3" y2="90.50" stroke="#000" stroke-width="1.25"/>
<text x="50.2" y="97.10" text-anchor="end" font-size="20.3">0.5</text>
<line x1="54.8" y1="137.60" x2="60.3" y2="137.60" stroke="#000" stroke-width="1.25"/>
<text x="50.2" y="144.20" text-anchor="end" font-size="20.3">0.0</text>
<line x1="54.8" y1="156.50" x2="60.3" y2="156.50" stroke="#000" stroke-width="1.25"/>
<text x="50.2" y="163.10" text-anchor="end" font-size="20.3">1.0</text>
<line x1="54.8" y1="203.95" x2="60.3" y2="203.95" stroke="#000" stroke-width="1.25"/>
<text x="50.2" y="210.55" text-anchor="end" font-size="20.3">0.5</text>
<line x1="54.8" y1="251.40" x2="60.3" y2="251.40" stroke="#000" stroke-width="1.25"/>
<text x="50.2" y="258.00" text-anchor="end" font-size="20.3">0.0</text>
<line x1="54.8" y1="276.10" x2="60.3" y2="276.10" stroke="#000" stroke-width="1.25"/>
<text x="50.2" y="282.70" text-anchor="end" font-size="20.3">80</text>
<line x1="54.8" y1="312.10" x2="60.3" y2="312.10" stroke="#000" stroke-width="1.25"/>
<text x="50.2" y="318.70" text-anchor="end" font-size="20.3">40</text>
<line x1="54.8" y1="348.10" x2="60.3" y2="348.10" stroke="#000" stroke-width="1.25"/>
<text x="50.2" y="354.70" text-anchor="end" font-size="20.3">0</text>
<text x="86.30" y="393.0" text-anchor="middle" font-size="20.3">0.0</text>
<text x="174.37" y="393.0" text-anchor="middle" font-size="20.3">0.5</text>
<text x="262.43" y="393.0" text-anchor="middle" font-size="20.3">1.0</text>
<text x="350.50" y="393.0" text-anchor="middle" font-size="20.3">1.5</text>
<text x="438.56" y="393.0" text-anchor="middle" font-size="20.3">2.0</text>
<text x="526.62" y="393.0" text-anchor="middle" font-size="20.3">2.5</text>
<text x="614.69" y="393.0" text-anchor="middle" font-size="20.3">3.0</text>
<text x="349.2" y="418.7" text-anchor="middle" font-size="22.4" textLength="106.1" lengthAdjust="spacingAndGlyphs">Time [days]</text>
<text transform="translate(15.6,92.7) rotate(-90)" text-anchor="middle" font-size="22.4">PV</text>
<text transform="translate(15.6,205.6) rotate(-90)" text-anchor="middle" font-size="22.4">Wind</text>
<text transform="translate(15.6,318.9) rotate(-90)" text-anchor="middle" font-size="22.4">Price</text>
<rect x="98.8" y="3.3" width="489.8" height="34.0" rx="4" ry="4" fill="#fff" fill-opacity="0.8" stroke="#d6d6d6" stroke-width="1.3"/>
<line x1="105.4" y1="18.9" x2="128" y2="18.9" stroke="#8da0cb" stroke-width="2.45"/>
<text x="138.9" y="25.8" font-size="20.3">Historical</text>
<line x1="257.9" y1="18.9" x2="280" y2="18.9" stroke="#fc8d62" stroke-width="2.45"/>
<text x="291.1" y="25.8" font-size="20.3">GAN</text>
<line x1="373.4" y1="18.9" x2="395.3" y2="18.9" stroke="#e78ac3" stroke-width="2.45"/>
<text x="407.0" y="25.8" font-size="20.3">WGAN</text>
<line x1="507.8" y1="18.9" x2="530.3" y2="18.9" stroke="#66c2a5" stroke-width="2.45"/>
<text x="541.1" y="25.8" font-size="20.3">VAE</text>
</svg>
</body></html>
